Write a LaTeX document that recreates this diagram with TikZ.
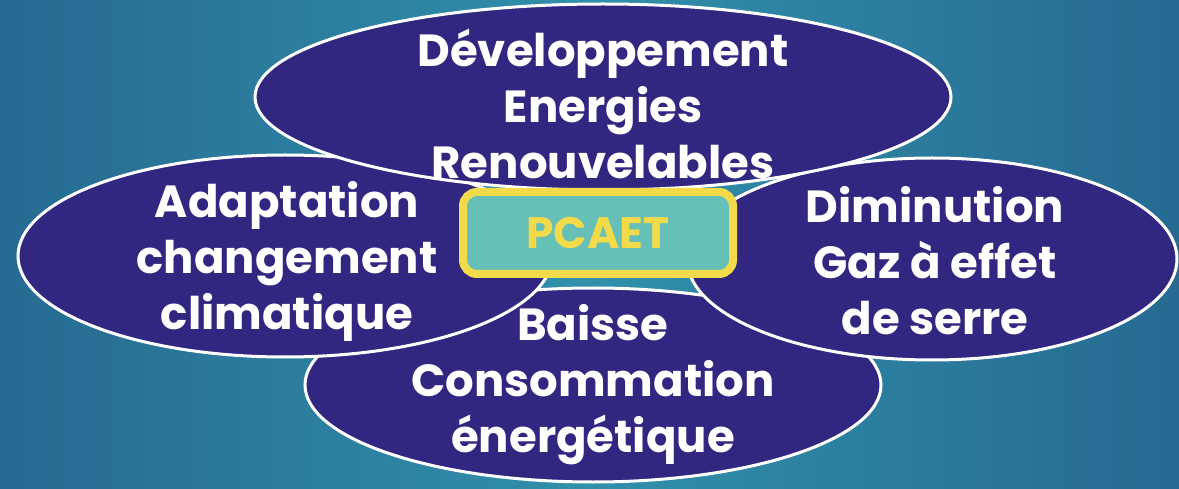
\documentclass[tikz,border=0pt]{standalone}
\usepackage{fontspec}
\setmainfont{Poppins}
\usetikzlibrary{shapes.geometric}
\definecolor{bgside}{HTML}{266A91}
\definecolor{bgmid}{HTML}{3190AA}
\definecolor{ovfill}{HTML}{322780}
\definecolor{boxfill}{HTML}{66C0B8}
\definecolor{boxline}{HTML}{F2DA4A}
\tikzset{
  oval/.style={ellipse, draw=white, line width=3pt, fill=ovfill, inner sep=0pt, outer sep=0pt},
  ovtext/.style={text=white, font=\fontsize{45}{56}\selectfont\bfseries, align=center, inner sep=0pt},
  centerbox/.style={rectangle, rounded corners=14pt, draw=boxline, line width=8pt, fill=boxfill,
    minimum width=270pt, minimum height=82pt, inner sep=0pt,
    text=boxline, font=\fontsize{44}{50}\selectfont\bfseries}
}
\begin{document}
\begin{tikzpicture}[x=1pt,y=-1pt]
\useasboundingbox (0,0) rectangle (1179,489);
\shade[left color=bgside, right color=bgside, middle color=bgmid] (0,0) rectangle (1179,489);
% ellipses, back to front
\node[oval, minimum width=576pt, minimum height=194pt] (ebottom) at (593,385) {};
\node[oval, minimum width=534pt, minimum height=202pt] (eleft) at (285,256) {};
\node[oval, minimum width=490pt, minimum height=202pt] (eright) at (932,259) {};
\node[oval, minimum width=696pt, minimum height=186pt] (etop) at (603,97) {};
\node[centerbox] (pcaet) at (598,233) {PCAET};
% texts
\node[ovtext] (ttop) at (603,104) {Développement\\Energies\\Renouvelables};
\node[ovtext] (tleft) at (287,261) {Adaptation\\changement\\climatique};
\node[ovtext] (tright) at (935,261) {Diminution\\Gaz à effet\\de serre};
\node[ovtext] (tbottom) at (593,385) {Baisse\\Consommation\\énergétique};
\end{tikzpicture}
\end{document}
